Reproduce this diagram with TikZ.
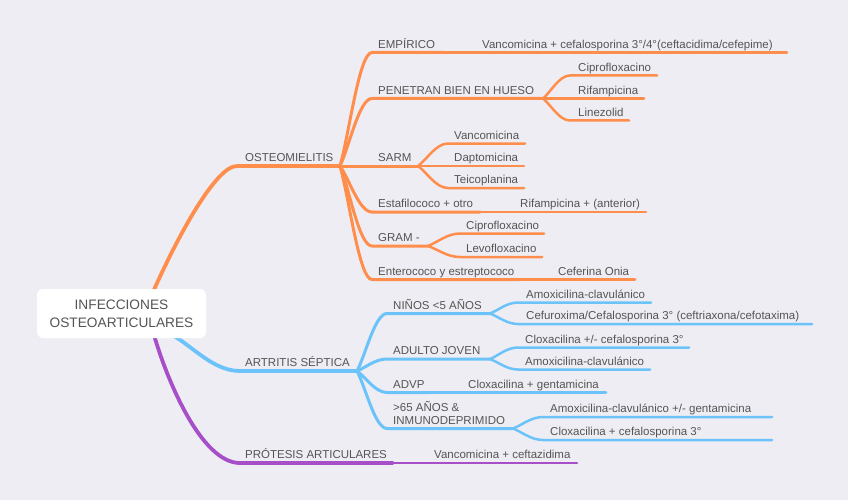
\documentclass[tikz,border=0pt]{standalone}
\usepackage{fontspec}
\setmainfont{Liberation Sans}
\usetikzlibrary{calc}
\definecolor{bg}{HTML}{EEEDF3}
\definecolor{org}{HTML}{FF8D4C}
\definecolor{blu}{HTML}{6CC3FA}
\definecolor{pur}{HTML}{A64FC8}
\definecolor{tx}{HTML}{555555}
\tikzset{
  txt/.style={anchor=base west, inner sep=0pt, text=tx, font=\fontsize{11.5}{13.5}\selectfont},
  rootbox/.style={fill=white, rounded corners=6pt, minimum width=169pt, minimum height=49pt, inner sep=0pt, align=center, text=tx, font=\fontsize{13.7}{18}\selectfont},
  Lone/.style={line width=3.8pt, line cap=round},
  Ltwo/.style={line width=3pt, line cap=round},
  Lthree/.style={line width=2.5pt, line cap=round},
}
\newcommand\topic[6]{\coordinate (#1s) at (#4,#3); \coordinate (#1e) at (#5,#3); \node[txt] (#1) at (#2,{#3-4.2}) {#6};}
\newcommand\branch[3]{\draw[#1] let \p1=(#2e), \p2=(#3s) in (\p1) .. controls ({\x1+0.3*(\x2-\x1)},{\y1+0.3*(\y2-\y1)}) and ({\x1+0.6*(\x2-\x1)},\y2) .. (\p2) -- (#3e);}
\begin{document}
\begin{tikzpicture}[x=1pt,y=-1pt]
\fill[bg] (0,0) rectangle (848,500);
\useasboundingbox (0,0) rectangle (848,500);

\coordinate (rO) at (153,292);
\coordinate (rB) at (172,335);
\coordinate (rP) at (154,335);

% ---------- OSTEOMIELITIS (orange)
\topic{ost}{245}{166}{237}{340}{OSTEOMIELITIS}
\topic{emp}{378}{52.5}{372}{443}{EMPÍRICO}
\topic{empv}{482}{52.5}{443}{787}{Vancomicina + cefalosporina 3°/4°(ceftacidima/cefepime)}
\topic{pen}{378}{98.5}{372}{543}{PENETRAN BIEN EN HUESO}
\topic{penc}{578}{75.5}{570}{657}{Ciprofloxacino}
\topic{penr}{578}{98.5}{543}{644}{Rifampicina}
\topic{penl}{578}{120.5}{570}{629}{Linezolid}
\topic{sarm}{378}{166}{340}{418}{SARM}
\topic{sarv}{454}{143.5}{448}{525}{Vancomicina}
\topic{sard}{454}{166}{418}{524}{Daptomicina}
\topic{sart}{454}{188}{448}{524}{Teicoplanina}
\topic{est}{378}{212}{372}{480}{Estafilococo + otro}
\topic{estr}{520}{212}{480}{646}{Rifampicina + (anterior)}
\topic{gram}{378}{246}{372}{428}{GRAM -}
\topic{gramc}{466}{233.5}{460}{544}{Ciprofloxacino}
\topic{graml}{466}{257}{460}{542}{Levofloxacino}
\topic{ent}{378}{279.5}{372}{519}{Enterococo y estreptococo}
\topic{entc}{558}{279.5}{519}{635}{Ceferina Onia}

\draw[Lone,org] let \p1=(rO), \p2=(osts) in (\p1) .. controls ({\x1+0.3*(\x2-\x1)},{\y1+0.45*(\y2-\y1)}) and ({\x1+0.75*(\x2-\x1)},\y2) .. (\p2) -- (oste);
\branch{Ltwo,org}{ost}{emp}
\branch{Ltwo,org}{ost}{pen}
\branch{Ltwo,org}{ost}{sarm}
\branch{Ltwo,org}{ost}{est}
\branch{Ltwo,org}{ost}{gram}
\branch{Ltwo,org}{ost}{ent}
\branch{Lthree,org}{emp}{empv}
\branch{Lthree,org}{pen}{penc}
\branch{Lthree,org}{pen}{penr}
\branch{Lthree,org}{pen}{penl}
\branch{Lthree,org}{sarm}{sarv}
\branch{Lthree,org}{sarm}{sard}
\branch{Lthree,org}{sarm}{sart}
\branch{Lthree,org}{est}{estr}
\branch{Lthree,org}{gram}{gramc}
\branch{Lthree,org}{gram}{graml}
\branch{Lthree,org}{ent}{entc}

% ---------- ARTRITIS SEPTICA (blue)
\topic{art}{245}{371}{240}{357}{ARTRITIS SÉPTICA}
\topic{nin}{393}{313.5}{387}{490}{NIÑOS <5 AÑOS}
\topic{nina}{526}{302.5}{518}{651}{Amoxicilina-clavulánico}
\topic{ninc}{526}{324}{518}{812}{Cefuroxima/Cefalosporina 3° (ceftriaxona/cefotaxima)}
\topic{adu}{393}{359}{387}{490}{ADULTO JOVEN}
\topic{aduc}{525}{347.5}{518}{689}{Cloxacilina +/- cefalosporina 3°}
\topic{adua}{525}{369.5}{518}{650}{Amoxicilina-clavulánico}
\topic{advp}{393}{392.5}{387}{430}{ADVP}
\topic{advc}{468}{392.5}{430}{606}{Cloxacilina + gentamicina}
\coordinate (mays) at (387,428.5); \coordinate (maye) at (513,428.5);
\node[txt] (may) at (393,411) {>65 AÑOS \&};
\node[txt] (maytwo) at (393,424.3) {INMUNODEPRIMIDO};
\topic{maya}{550}{417}{543}{772}{Amoxicilina-clavulánico +/- gentamicina}
\topic{mayc}{550}{440}{543}{772}{Cloxacilina + cefalosporina 3°}

\draw[Lone,blu] let \p1=(rB), \p2=(arts) in (\p1) .. controls ({\x1+0.3*(\x2-\x1)},{\y1+0.3*(\y2-\y1)}) and ({\x1+0.6*(\x2-\x1)},\y2) .. (\p2) -- (arte);
\branch{Ltwo,blu}{art}{nin}
\branch{Ltwo,blu}{art}{adu}
\branch{Ltwo,blu}{art}{advp}
\branch{Ltwo,blu}{art}{may}
\branch{Lthree,blu}{nin}{nina}
\branch{Lthree,blu}{nin}{ninc}
\branch{Lthree,blu}{adu}{aduc}
\branch{Lthree,blu}{adu}{adua}
\branch{Lthree,blu}{advp}{advc}
\branch{Lthree,blu}{may}{maya}
\branch{Lthree,blu}{may}{mayc}

% ---------- PROTESIS (purple)
\topic{pro}{245}{463}{240}{393}{PRÓTESIS ARTICULARES}
\topic{prov}{434}{463}{393}{577}{Vancomicina + ceftazidima}
\draw[Lone,pur] let \p1=(rP), \p2=(pros) in (\p1) .. controls ({\x1+0.15*(\x2-\x1)},{\y1+0.35*(\y2-\y1)}) and ({\x1+0.55*(\x2-\x1)},\y2) .. (\p2) -- (proe);
\branch{Lthree,pur}{pro}{prov}

% ---------- root
\node[rootbox] (root) at (121.5,313.5) {INFECCIONES\\OSTEOARTICULARES};
\end{tikzpicture}
\end{document}
